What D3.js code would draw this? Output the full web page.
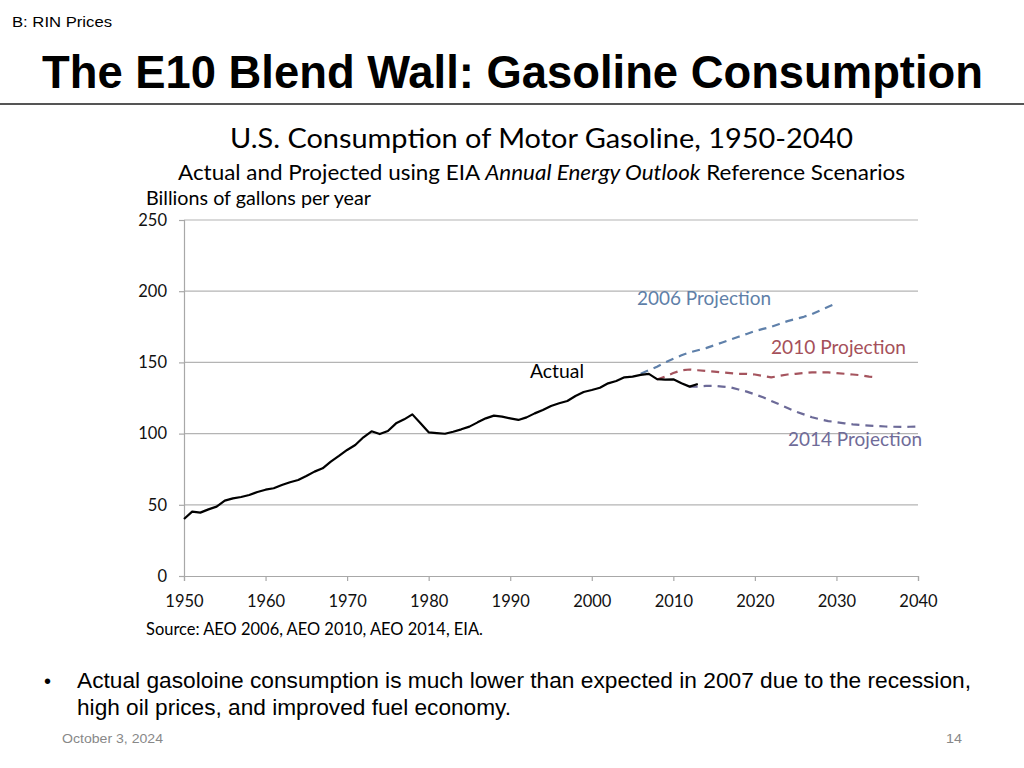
<!DOCTYPE html>
<html><head><meta charset="utf-8">
<script src="https://cdn.jsdelivr.net/npm/d3@7"></script>
<style>body{margin:0;background:#fff}svg{display:block}</style>
</head><body>
<svg id="c" width="1024" height="768"></svg>
<script>
const actualYears = d3.range(1950, 2014);
const actualValues = [40,45.2,44.5,46.8,48.7,52.9,54.5,55.5,56.9,59,
  60.6,61.6,63.9,65.8,67.4,70.2,73.3,75.6,80.3,84.3,
  88.5,92,97.4,101.6,99.7,101.8,107.2,110,113.5,107.2,
  100.9,100.4,99.9,101.3,103,104.9,107.9,110.7,112.6,111.9,
  110.7,109.6,111.4,114.2,116.6,119.4,121.3,122.9,126.4,129.2,
  130.6,132.2,135.3,136.9,139.5,140,141.2,141.9,138.3,137.9,
  138.1,135.3,133,134.8];
const proj2006Years = d3.range(2006, 2031);
const proj2006Values = [142,144.5,147,150,152.5,155,157,158.5,160,162,164,166,168,170,172,173.5,175,177,179,180.5,182,184,186.5,189,191.5];
const proj2010Years = d3.range(2008, 2036);
const proj2010Values = [138,140,142.5,144.5,145,144.5,144,143.5,143,142.5,142,142,141.5,140.5,139.5,140.5,141.5,142,142.5,143,143,143,142.5,142,141.5,141,140,139.5];
const proj2014Years = d3.range(2012, 2041);
const proj2014Values = [133,133,133.5,133.5,133,132.5,131,129.5,127.5,125.5,123,120.5,118,115.5,113.5,111.5,110,108.8,108,107.2,106.5,106,105.6,105.3,105,104.8,104.7,104.8,105];
const yTicks = [0,50,100,150,200,250];
const xTicks = [1950,1960,1970,1980,1990,2000,2010,2020,2030,2040];

const svg = d3.select("#c");
const chartFont = "Lato, 'Open Sans', sans-serif";
const slideFont = "'Liberation Sans', Arial, sans-serif";

// slide header
svg.append("text").attr("x",12).attr("y",27).attr("font-family",slideFont).attr("font-size",14)
  .attr("textLength",100).attr("lengthAdjust","spacingAndGlyphs").text("B: RIN Prices");
svg.append("text").attr("x",42).attr("y",88).attr("font-family",slideFont).attr("font-size",46).attr("font-weight","bold")
  .attr("textLength",941).attr("lengthAdjust","spacingAndGlyphs").text("The E10 Blend Wall: Gasoline Consumption");
svg.append("line").attr("x1",0).attr("x2",1024).attr("y1",104).attr("y2",104).attr("stroke","#555").attr("stroke-width",2);

// chart titles
svg.append("text").attr("x",230).attr("y",148).attr("font-family",chartFont).attr("font-size",26)
  .attr("textLength",623).attr("lengthAdjust","spacingAndGlyphs").text("U.S. Consumption of Motor Gasoline, 1950-2040");
const sub = svg.append("text").attr("x",178).attr("y",180).attr("font-family",chartFont).attr("font-size",21)
  .attr("textLength",727).attr("lengthAdjust","spacingAndGlyphs");
sub.append("tspan").text("Actual and Projected using EIA ");
sub.append("tspan").attr("font-style","italic").text("Annual Energy Outlook");
sub.append("tspan").text(" Reference Scenarios");
svg.append("text").attr("x",146).attr("y",205).attr("font-family",chartFont).attr("font-size",18.5)
  .attr("textLength",225).attr("lengthAdjust","spacingAndGlyphs").text("Billions of gallons per year");

const x = d3.scaleLinear().domain([1950,2040]).range([184,918]);
const y = d3.scaleLinear().domain([0,250]).range([576,220]);

// gridlines
svg.append("g").selectAll("line").data(yTicks.filter(d=>d>0)).join("line")
  .attr("x1",184).attr("x2",918).attr("y1",d=>y(d)).attr("y2",d=>y(d))
  .attr("stroke","#b4b4b4").attr("stroke-width",1.2);

// axes
const yAxis = svg.append("g").attr("transform","translate(184,0)")
  .call(d3.axisLeft(y).tickValues(yTicks).tickSize(5).tickPadding(12));
const xAxis = svg.append("g").attr("transform","translate(0,576)")
  .call(d3.axisBottom(x).tickValues(xTicks).tickFormat(d3.format("d")).tickSize(5).tickPadding(14));
[yAxis,xAxis].forEach(g=>{
  g.selectAll("path,line").attr("stroke","#a8a8a8").attr("stroke-width",1.2);
  g.selectAll("text").attr("font-family",chartFont).attr("font-size",16.5).attr("fill","#111");
});

const line = d3.line().x(d=>x(d[0])).y(d=>y(d[1]));
function draw(years, vals, color, dash, w){
  svg.append("path").datum(years.map((yr,i)=>[yr,vals[i]])).attr("d",line)
    .attr("fill","none").attr("stroke",color).attr("stroke-width",w)
    .attr("stroke-dasharray",dash).attr("stroke-linejoin","round");
}
draw(proj2006Years, proj2006Values, "#5f80aa", "8,6", 2.2);
draw(proj2010Years, proj2010Values, "#a5545e", "8,6", 2.2);
draw(proj2014Years, proj2014Values, "#6c6a98", "8,6", 2.2);
draw(actualYears, actualValues, "#000", null, 2.2);

// series labels
const lab = (t,xx,yy,c,w)=>svg.append("text").attr("x",xx).attr("y",yy).attr("font-family",chartFont)
  .attr("font-size",19).attr("fill",c).attr("textLength",w).attr("lengthAdjust","spacingAndGlyphs").text(t);
lab("Actual",530,378,"#000",54);
lab("2006 Projection",637,305,"#5f7fa8",134);
lab("2010 Projection",771,354,"#a5505a",135);
lab("2014 Projection",788,446,"#6f6b98",134);

svg.append("text").attr("x",146).attr("y",635).attr("font-family",chartFont).attr("font-size",16.5)
  .attr("textLength",337).attr("lengthAdjust","spacingAndGlyphs").text("Source: AEO 2006, AEO 2010, AEO 2014, EIA.");

// bullet
svg.append("text").attr("x",44).attr("y",688).attr("font-family",slideFont).attr("font-size",20).text("•");
svg.append("text").attr("x",77).attr("y",688).attr("font-family",slideFont).attr("font-size",21.5)
  .attr("textLength",894).attr("lengthAdjust","spacingAndGlyphs")
  .text("Actual gasoloine consumption is much lower than expected in 2007 due to the recession,");
svg.append("text").attr("x",77).attr("y",715).attr("font-family",slideFont).attr("font-size",21.5)
  .attr("textLength",434).attr("lengthAdjust","spacingAndGlyphs")
  .text("high oil prices, and improved fuel economy.");
svg.append("text").attr("x",62).attr("y",743).attr("font-family",slideFont).attr("font-size",13).attr("fill","#888")
  .attr("textLength",101).attr("lengthAdjust","spacingAndGlyphs").text("October 3, 2024");
svg.append("text").attr("x",946).attr("y",743).attr("font-family",slideFont).attr("font-size",13).attr("fill","#888")
  .attr("textLength",16).attr("lengthAdjust","spacingAndGlyphs").text("14");
</script>
</body></html>
